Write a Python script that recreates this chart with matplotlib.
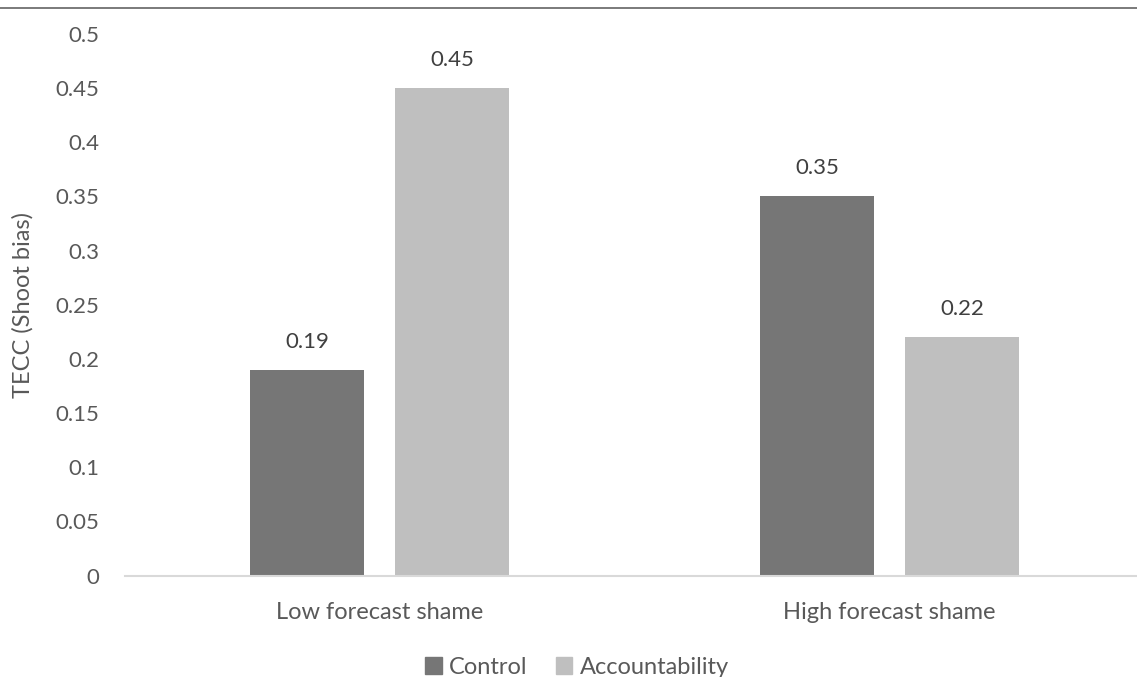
import matplotlib
matplotlib.use('Agg')
import matplotlib.pyplot as plt
from matplotlib.patches import Patch
from matplotlib.lines import Line2D
import numpy as np

groups = ['Low forecast shame', 'High forecast shame']
series = ['Control', 'Accountability']
control = [0.19, 0.35]
accountability = [0.45, 0.22]
yticks = [0, 0.05, 0.1, 0.15, 0.2, 0.25, 0.3, 0.35, 0.4, 0.45, 0.5]

plt.rcParams['font.family'] = ['Lato', 'DejaVu Sans']
axis_col = '#595959'
label_col = '#404040'
colors = ['#767676', '#bfbfbf']
num_fs = 16
txt_fs = 17

fig = plt.figure(figsize=(11.37, 6.77), dpi=100)
ax = fig.add_axes([124.5 / 1137, 101.5 / 677, 1020 / 1137, 541.5 / 677])

x = np.arange(len(groups))
w = 0.2235
off = 0.142
for vals, dx, c in [(control, -off, colors[0]), (accountability, off, colors[1])]:
    bars = ax.bar(x + dx, vals, width=w, color=c, zorder=2)
    for b, v in zip(bars, vals):
        ax.annotate(f'{v:g}', (b.get_x() + b.get_width() / 2, v),
                    xytext=(0, 16), textcoords='offset points',
                    ha='center', va='baseline', fontsize=num_fs, color=label_col)

ax.set_xlim(-0.5, 1.5)
ax.set_ylim(0, 0.5)
ax.set_yticks(yticks)
ax.set_yticklabels([f'{t:g}' for t in yticks])
ax.set_xticks(x)
ax.set_xticklabels(groups, fontsize=txt_fs)
ax.tick_params(axis='both', length=0, labelcolor=axis_col)
ax.tick_params(axis='y', pad=18, labelsize=num_fs)
ax.tick_params(axis='x', pad=19)
for s in ['top', 'right', 'left']:
    ax.spines[s].set_visible(False)
ax.spines['bottom'].set_color('#d9d9d9')
ax.spines['bottom'].set_linewidth(1.5)
ax.set_ylabel('TECC (Shoot bias)', fontsize=txt_fs, color=axis_col, labelpad=16)

handles = [Patch(color=c) for c in colors]
fig.legend(handles, series, loc='center', bbox_to_anchor=(577 / 1137, 1 - 667 / 677),
           ncol=2, frameon=False, fontsize=txt_fs, labelcolor=axis_col,
           handlelength=0.7, handleheight=0.7, handletextpad=0.3, columnspacing=1.2)

# thin border line along the top edge
fig.add_artist(Line2D([0, 1], [1 - 8 / 677, 1 - 8 / 677], color='#707070', lw=1.3))

fig.savefig('out.png', dpi=100)
